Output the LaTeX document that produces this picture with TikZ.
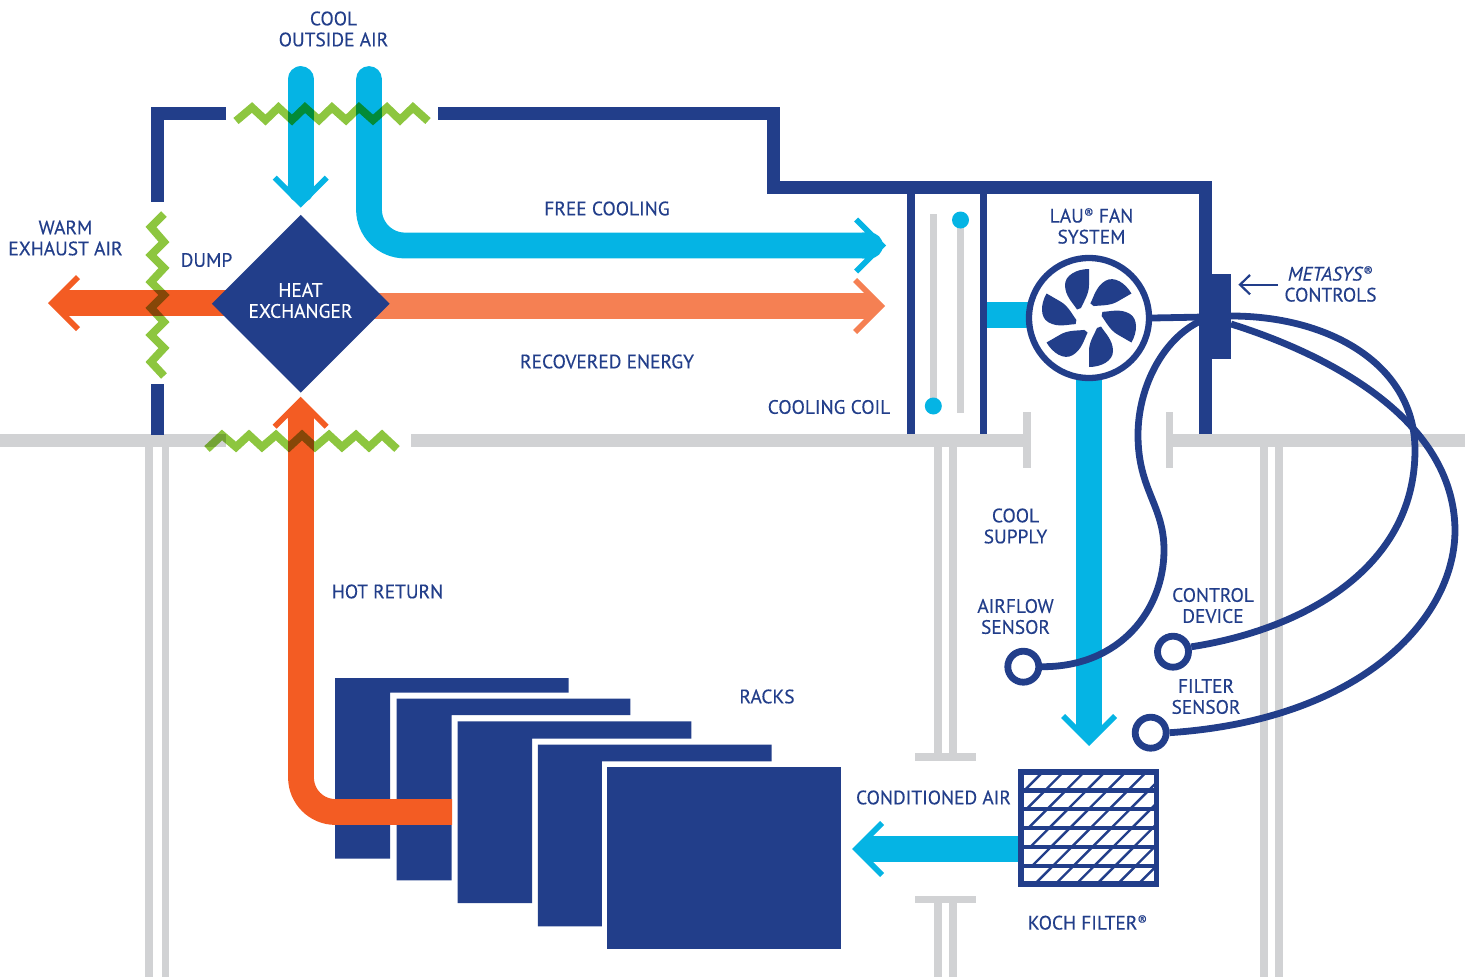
\documentclass[tikz,border=0pt]{standalone}
\usepackage{fontspec}
\setmainfont[FakeBold=0.3]{PT Sans}
\usetikzlibrary{shapes.geometric}
\definecolor{navy}{HTML}{223E8A}
\definecolor{skyc}{HTML}{05B4E4}
\definecolor{hoto}{HTML}{F35C23}
\definecolor{reco}{HTML}{F58053}
\definecolor{zig}{HTML}{8DC63F}
\definecolor{wallg}{HTML}{D1D2D4}
\def\pxu{0.02cm}
\newcommand\regm{{\fontsize{8}{8}\selectfont\raisebox{.6ex}{®}}}
\newcommand\chevron[4]{\fill[#4,shift={(#1,#2)},rotate=#3] (0,0) -- (-28,-28) -- (-24,-32) -- (-12.8,-20.8) -- (-12.8,-24) -- (12.8,-24) -- (12.8,-20.8) -- (24,-32) -- (28,-28) -- cycle;}
\tikzset{
  wall/.style={draw=wallg,line width=13*\pxu},
  post/.style={draw=wallg,line width=7.5*\pxu},
  frame/.style={draw=navy,line width=13*\pxu,line join=miter},
  coilwall/.style={draw=navy,line width=7.5*\pxu},
  shaft/.style={line width=25.8*\pxu},
  wire/.style={draw=navy,line width=6.8*\pxu},
  ring/.style={circle,draw=navy,fill=white,line width=6.8*\pxu,minimum size=31*\pxu,inner sep=0pt},
  zz/.style={draw=zig,line width=8*\pxu,line join=miter,miter limit=4},
  lbl/.style={text=navy,align=center,inner sep=0pt,font=\fontsize{11.05}{11.95}\selectfont},
  rack/.style={fill=navy},
}
\begin{document}
\begin{tikzpicture}[x=0.02cm,y=-0.02cm]
\useasboundingbox (0,0) rectangle (1465,977);
% walls and posts
\coordinate (wa) at (0,440.5); \coordinate (wb) at (226,440.5);
\coordinate (wc) at (411,440.5); \coordinate (wd) at (1027,440.5);
\coordinate (we) at (1166,440.5); \coordinate (wf) at (1465,440.5);
\draw[wall] (wa) -- (wb);
\draw[wall] (wc) -- (wd);
\draw[wall] (we) -- (wf);
\draw[post] (1027,412) -- (1027,468);
\draw[post] (1169.5,412) -- (1169.5,468);
\foreach \x in {149,165.5,1264,1279}{\draw[post] (\x,447) -- (\x,977);}
\foreach \x in {938,953}{\draw[post] (\x,447) -- (\x,757); \draw[post] (\x,899) -- (\x,977);}
\draw[post] (915,757) -- (976,757);
\draw[post] (915,899.5) -- (976,899.5);
% duct frame
\draw[frame] (226,113) -- (157,113) -- (157,202);
\draw[frame] (157.5,384) -- (157.5,435);
\draw[frame] (438,113) -- (773.5,113) -- (773.5,187) -- (1205,187) -- (1205,434);
\draw[coilwall] (911,187) -- (911,434);
\draw[coilwall] (983.5,187) -- (983.5,434);
% coil
\draw[post] (933.3,214) -- (933.3,403);
\draw[post] (960.5,220) -- (960.5,413);
\fill[skyc] (960.5,220) circle[radius=8.5];
\fill[skyc] (933.3,406) circle[radius=8.5];
% cyan flows
\draw[shaft,draw=skyc,line cap=round] (300.7,79) -- (300.7,190);
\chevron{300.7}{207.7}{0}{skyc}
\draw[shaft,draw=skyc,line cap=round,rounded corners=0.72cm] (369,79) -- (369,245.5) -- (870,245.5);
\chevron{886}{245.5}{90}{skyc}
\draw[shaft,draw=skyc] (987,315) -- (1040,315);
\draw[shaft,draw=skyc] (1089,370) -- (1089,730);
\chevron{1089}{746}{0}{skyc}
\draw[shaft,draw=skyc] (1020,849) -- (868,849);
\chevron{852}{849}{-90}{skyc}
% orange flows
\draw[shaft,draw=reco] (370,306) -- (870,306);
\chevron{885}{306}{90}{reco}
\draw[shaft,draw=hoto] (230,303) -- (64,303);
\chevron{48}{303}{-90}{hoto}
% racks 1 and 2
\fill[rack] (335,678) -| (568.6,692.7) -| (390.2,858.7) -| cycle;
\fill[rack] (396.5,698.7) -| (630.3,715) -| (451.7,880.3) -| cycle;
\draw[shaft,draw=hoto,rounded corners=0.69cm] (452,812) -- (301,812) -- (301,412);
\chevron{300.7}{396.7}{180}{hoto}
% racks 3, 4, 5
\fill[rack] (457.6,721.3) -| (691.4,738.7) -| (532,903) -| cycle;
\fill[rack] (537.9,744.7) -| (771.7,761.3) -| (601.9,926.3) -| cycle;
\fill[rack] (607.4,767.3) rectangle (841,949.3);
% heat exchanger
\node[diamond,aspect=1,fill=navy,inner sep=0pt,minimum width=178*\pxu,minimum height=178*\pxu] (hx) at (300.8,303.8) {};
\node[lbl,text=white] (hxt) at (300.5,300.5) {HEAT\\EXCHANGER};
% controls box
\fill[navy] (1211,274) rectangle (1231,358.7);
\coordinate (boxl) at (1205,319);
\coordinate (boxr) at (1231,316);
\coordinate (boxs) at (1231,324);
% wires
\node[ring] (airflow) at (1023.3,666.7) {};
\node[ring] (ctrl) at (1173,651.7) {};
\node[ring] (filt) at (1150.7,732.7) {};
\draw[wire] (boxl) .. controls (1165,335) and (1138,385) .. (1138,435) .. controls (1138,490) and (1164,505) .. (1164,550) .. controls (1164,610) and (1120,667) .. (airflow.east);
\draw[wire] (boxr) .. controls (1330,316) and (1415,365) .. (1415,450) .. controls (1415,570) and (1300,630) .. (ctrl.15);
\draw[wire] (boxs) .. controls (1330,355) and (1454,420) .. (1455,530) .. controls (1455,620) and (1360,720) .. (filt.east);
% fan
\node[circle,draw=navy,fill=white,line width=6.3*\pxu,minimum size=120*\pxu,inner sep=0pt] (fan) at (1089,318) {};
\coordinate (fanr) at (1205,317);
\draw[wire] (fan.east) -- (fanr);
\foreach \a in {0,60,...,300}{
  \fill[navy,shift={(1089,318)},rotate=\a] (-12,-8.5) .. controls (-16,-15) and (-24,-22) .. (-24,-33) .. controls (-24,-43) and (-12,-49) .. (0,-49) -- (0,-33) .. controls (0,-24) and (-5,-17) .. (-8,-10) -- cycle;
}
\fill[white] (1089,318) circle[radius=11.5];
% filter
\begin{scope}
\clip (1021,772) rectangle (1156.5,884);
\foreach \i in {0,...,5}{
  \pgfmathsetmacro\yb{790.5+18.8*\i}
  \pgfmathsetmacro\yt{\yb-18.8}
  \foreach \k in {-1,...,5}{
    \pgfmathsetmacro\xb{1045+2*\i+20.7*\k}
    \pgfmathsetmacro\xt{\xb+18.8}
    \draw[navy,line width=2.4*\pxu] (\xb,\yb) -- (\xt,\yt);
  }
}
\end{scope}
\foreach \y in {790.5,809.3,828,847,866}{\draw[navy,line width=4.3*\pxu] (1021,\y) -- (1156.5,\y);}
\draw[navy,line width=5.5*\pxu] (1021,772) rectangle (1156.5,884);
% metasys arrow
\coordinate (ma) at (1278,284.7); \coordinate (mb) at (1240,284.7);
\draw[navy,line width=2.2*\pxu] (ma) -- (mb);
\draw[navy,line width=2.2*\pxu] (1250,275) -- (mb) -- (1250,294.3);
% dampers (zigzags)
\begin{scope}[blend mode=multiply]
\draw[zz] (236,121) -- (252,107.5) -- (265.5,120) -- (278.5,107.5) -- (292,120) -- (305,107.5) -- (319,120) -- (332,107.5) -- (346,120) -- (359,107.5) -- (373,120) -- (387,107.5) -- (400,120) -- (413,107.5) -- (428,121);
\draw[zz] (164,214) -- (151,227) -- (164,242) -- (151,255) -- (164,268) -- (151,282) -- (164,295) -- (151,308) -- (164,322) -- (151,335) -- (164,348) -- (151,362) -- (164,376);
\draw[zz] (207,449) -- (222,435) -- (236,447) -- (249,435) -- (262,447) -- (276,435) -- (289,447) -- (302,435) -- (315,447) -- (329,435) -- (342,447) -- (356,435) -- (369,447) -- (382,435) -- (397,449);
\end{scope}
% labels
\node[lbl] (t1) at (333.5,29) {COOL\\OUTSIDE AIR};
\node[lbl] (t2) at (65.5,238) {WARM\\EXHAUST AIR};
\node[lbl] (t3) at (206.5,260) {DUMP};
\node[lbl] (t4) at (607,208.5) {FREE COOLING};
\node[lbl] (t5) at (607,361.5) {RECOVERED ENERGY};
\node[lbl] (t6) at (829,407) {COOLING COIL};
\node[lbl] (t7) at (1091.5,226) {LAU\regm{} FAN\\SYSTEM};
\node[lbl] (t8) at (1330.5,284) {\textit{METASYS}\regm\\CONTROLS};
\node[lbl] (t9) at (1015.5,526) {COOL\\SUPPLY};
\node[lbl] (t10) at (1015.5,616.5) {AIRFLOW\\SENSOR};
\node[lbl] (t11) at (1213,605.5) {CONTROL\\DEVICE};
\node[lbl] (t12) at (1206,696.5) {FILTER\\SENSOR};
\node[lbl] (t13) at (387.5,591.5) {HOT RETURN};
\node[lbl] (t14) at (767,696.5) {RACKS};
\node[lbl] (t15) at (933.5,797.5) {CONDITIONED AIR};
\node[lbl] (t16) at (1087.5,922.5) {KOCH FILTER\regm};
\end{tikzpicture}
\end{document}
